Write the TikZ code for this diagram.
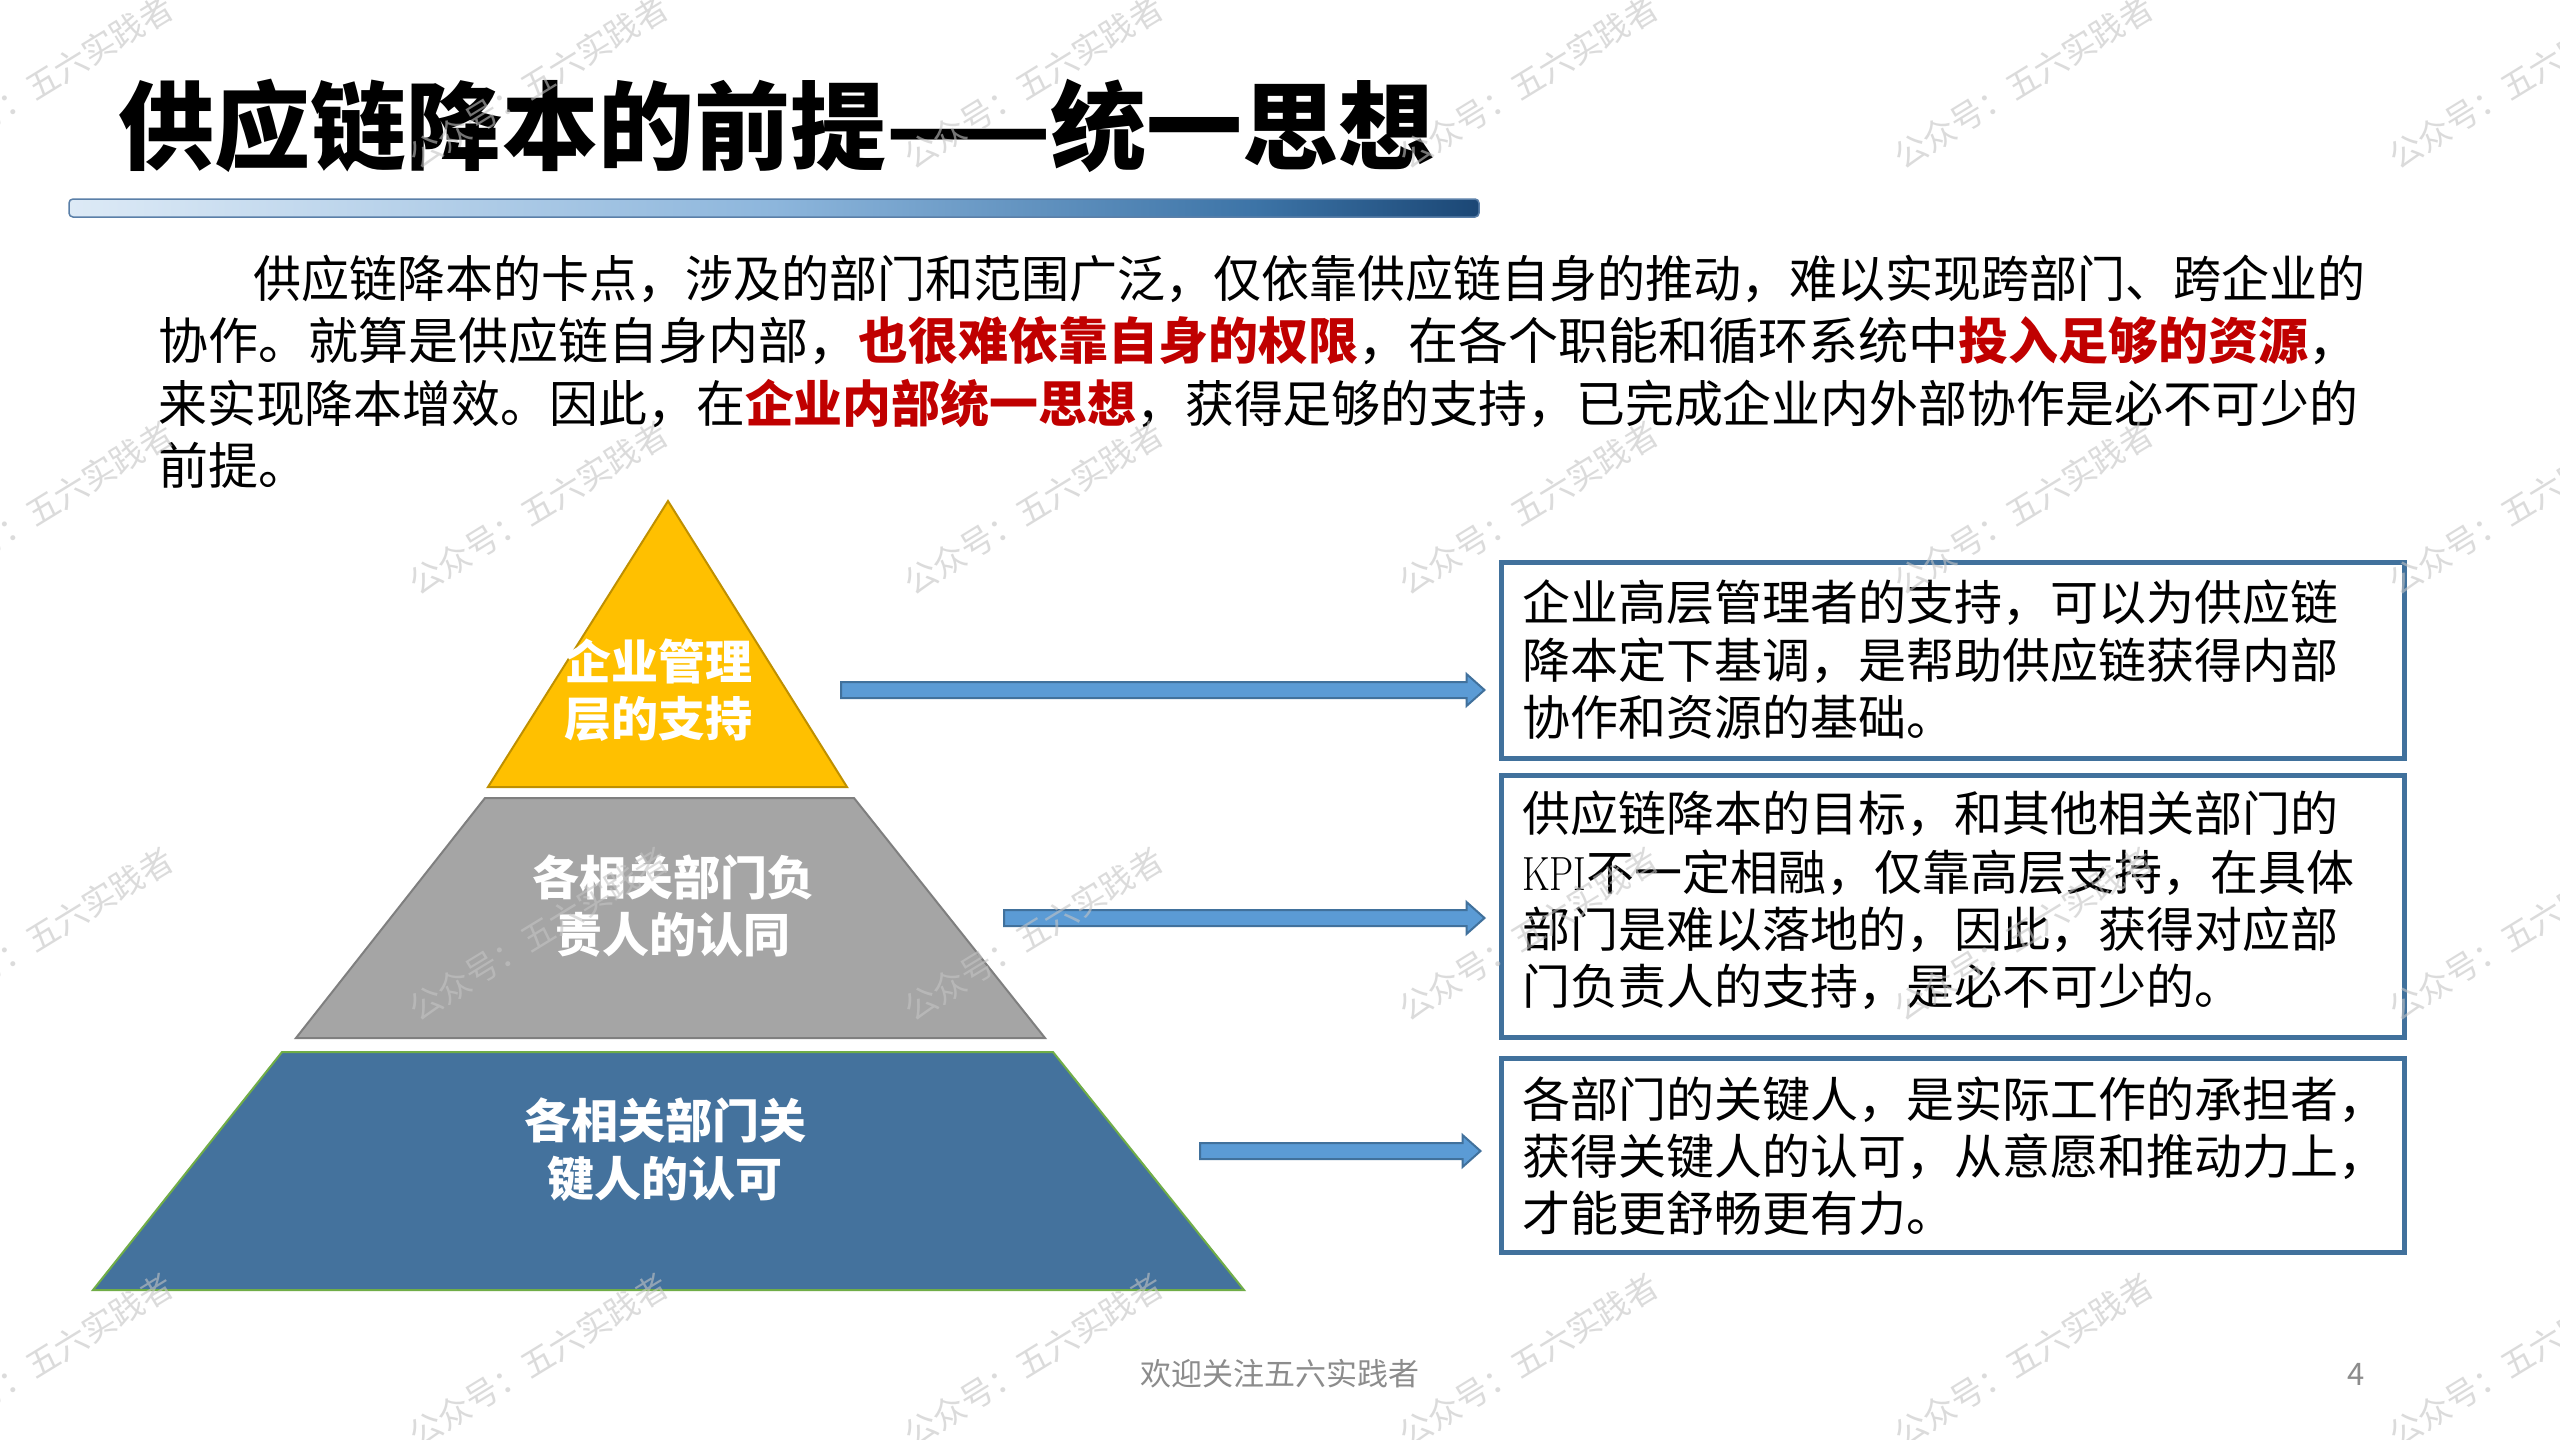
\documentclass[tikz,border=0pt]{standalone}
\usepackage{fontspec}
\usepackage{graphicx}
\newfontfamily\cjk{Noto Sans CJK SC}
\usetikzlibrary{calc}
\definecolor{pyY}{HTML}{FFC000}
\definecolor{pyYline}{HTML}{BF9000}
\definecolor{pyG}{HTML}{A5A5A5}
\definecolor{pyGline}{HTML}{7F7F7F}
\definecolor{pyB}{HTML}{44729D}
\definecolor{pyBline}{HTML}{70AD47}
\definecolor{arrFill}{HTML}{5B9BD5}
\definecolor{arrLine}{HTML}{41719C}
\definecolor{boxLine}{HTML}{41719C}
\definecolor{redtxt}{HTML}{C00000}
\definecolor{footgray}{HTML}{8C8C8C}
\definecolor{wmgray}{HTML}{C4C4C4}
\definecolor{barA}{HTML}{DDEAF6}
\definecolor{barB}{HTML}{8DB6DC}
\definecolor{barC}{HTML}{3D74A7}
\definecolor{barD}{HTML}{1B4775}
\definecolor{barLine}{HTML}{5A7FA8}
\pgfdeclarehorizontalshading{barshade}{100bp}{color(0bp)=(barA); color(25bp)=(barA); color(50bp)=(barB); color(67bp)=(barC); color(75bp)=(barD); color(100bp)=(barD)}
\newcommand\blockarr[3]{% start, end, half shaft height
  \draw[blockarrow] ($(#1)+(0,-#3)$) -- ($(#2)+(-18,-#3)$) -- ($(#2)+(-18,-2*#3)$) -- (#2)
    -- ($(#2)+(-18,2*#3)$) -- ($(#2)+(-18,#3)$) -- ($(#1)+(0,#3)$) -- cycle;}
\tikzset{
  titletext/.style={anchor=base west, inner sep=0, font=\cjk\bfseries\fontsize{96}{96}\selectfont},
  paratext/.style={anchor=base west, inner sep=0, font=\cjk\fontsize{50}{50}\selectfont},
  boxtext/.style={anchor=base west, inner sep=0, font=\cjk\fontsize{48}{48}\selectfont},
  tiertext/.style={anchor=base, inner sep=0, text=white, font=\cjk\bfseries\fontsize{47}{47}\selectfont},
  descbox/.style={draw=boxLine, line width=5, fill=white, inner sep=0, minimum width=903},
  blockarrow/.style={fill=arrFill, draw=arrLine, line width=2},
  foottext/.style={anchor=base, inner sep=0, text=footgray, font=\cjk\fontsize{31}{31}\selectfont},
  wm/.style={rotate=31.5, text=wmgray, opacity=0.6, inner sep=0, font=\cjk\fontsize{33}{33}\selectfont},
}
\begin{document}
\begin{tikzpicture}[x=1pt,y=-1pt]
\useasboundingbox (0,0) rectangle (2560,1440);
\fill[white] (0,0) rectangle (2560,1440);

% title and bar
\node[titletext] (title) at (118,162) {供应链降本的前提——统一思想};
\shade[shading=barshade, rounded corners=4] (69,199) rectangle (1479,217);
\draw[barLine, line width=1.5, rounded corners=4] (69,199) rectangle (1479,217);

% paragraph
\node[paratext] (p1) at (253,297) {\scalebox{0.96}[1]{供应链降本的卡点，涉及的部门和范围广泛，仅依靠供应链自身的推动，难以实现跨部门、跨企业的}};
\node[paratext] (p2) at (158,359) {协作。就算是供应链自身内部，{\color{redtxt}\bfseries 也很难依靠自身的权限}，在各个职能和循环系统中{\color{redtxt}\bfseries 投入足够的资源}，};
\node[paratext] (p3) at (158,422) {\scalebox{0.978}[1]{来实现降本增效。因此，在{\color{redtxt}\bfseries 企业内部统一思想}，获得足够的支持，已完成企业内外部协作是必不可少的}};
\node[paratext] (p4) at (158,484) {前提。};

% pyramid
\coordinate (t1) at (668,501); \coordinate (t2) at (847,787); \coordinate (t3) at (488,787);
\filldraw[fill=pyY, draw=pyYline, line width=2] (t1) -- (t2) -- (t3) -- cycle;
\coordinate (m1) at (485,798); \coordinate (m2) at (854,798); \coordinate (m3) at (1045,1038); \coordinate (m4) at (296,1038);
\filldraw[fill=pyG, draw=pyGline, line width=2] (m1) -- (m2) -- (m3) -- (m4) -- cycle;
\coordinate (b1) at (282,1052); \coordinate (b2) at (1053,1052); \coordinate (b3) at (1244,1290); \coordinate (b4) at (93,1290);
\filldraw[fill=pyB, draw=pyBline, line width=2] (b1) -- (b2) -- (b3) -- (b4) -- cycle;

\node[tiertext] (tt1) at (658,679) {企业管理};
\node[tiertext] (tt2) at (658,736) {层的支持};
\node[tiertext] (mt1) at (673,895) {各相关部门负};
\node[tiertext] (mt2) at (673,952) {责人的认同};
\node[tiertext] (bt1) at (665,1138) {各相关部门关};
\node[tiertext] (bt2) at (665,1196) {键人的认可};

% boxes
\node[descbox, minimum height=196] (box1) at (1952.5,660) {};
\node[descbox, minimum height=262] (box2) at (1952.5,906) {};
\node[descbox, minimum height=194] (box3) at (1952.5,1155) {};

\node[boxtext] (x11) at (1522,620) {企业高层管理者的支持，可以为供应链};
\node[boxtext] (x12) at (1522,678) {降本定下基调，是帮助供应链获得内部};
\node[boxtext] (x13) at (1522,735) {协作和资源的基础。};

\node[boxtext] (x21) at (1522,831) {供应链降本的目标，和其他相关部门的};
\node[boxtext] (x22) at (1522,890) {{\rmfamily\scalebox{0.8}[1]{KPI}}不一定相融，仅靠高层支持，在具体};
\node[boxtext] (x23) at (1522,947) {部门是难以落地的，因此，获得对应部};
\node[boxtext] (x24) at (1522,1004) {门负责人的支持，是必不可少的。};

\node[boxtext] (x31) at (1522,1117) {各部门的关键人，是实际工作的承担者，};
\node[boxtext] (x32) at (1522,1174) {获得关键人的认可，从意愿和推动力上，};
\node[boxtext] (x33) at (1522,1231) {才能更舒畅更有力。};

% arrows
\coordinate (a1s) at (841,690);  \coordinate (a1e) at (box1.west |- a1s);
\coordinate (a2s) at (1004,918); \coordinate (a2e) at (box2.west |- a2s);
\coordinate (a3s) at (1200,1151); \coordinate (a3e) at (box3.west |- a3s);
\blockarr{a1s}{$(a1e)+(-14,0)$}{8}
\blockarr{a2s}{$(a2e)+(-14,0)$}{8}
\blockarr{a3s}{$(a3e)+(-18,0)$}{8}

% footer
\node[foottext] (foot) at (1280,1385) {欢迎关注五六实践者};
\node[foottext] (pageno) at (2356,1385) {4};

% watermarks
\foreach \i in {0,...,5} {
  \foreach \j in {0,...,3} {
    \node[wm] (wm-\i-\j) at (43+495*\i, 82+426*\j) {公众号：五六实践者};
  }
}
\end{tikzpicture}
\end{document}
